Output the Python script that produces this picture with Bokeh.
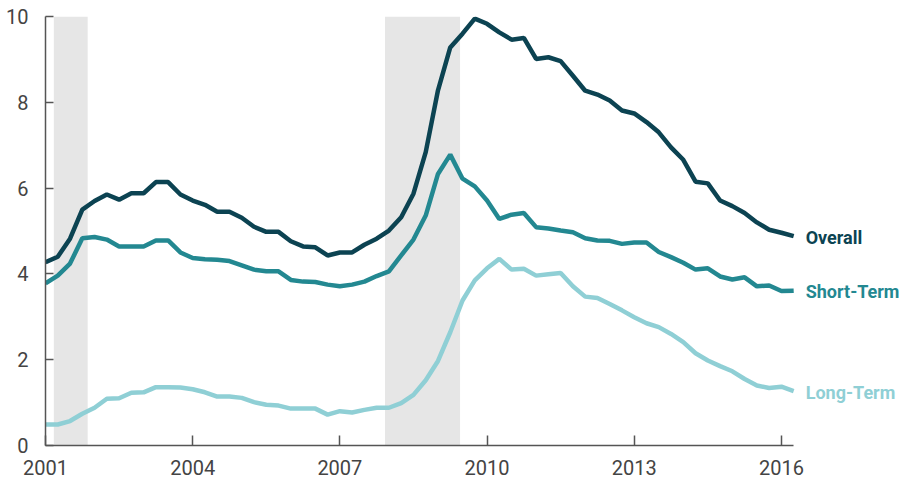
from bokeh.plotting import figure
from bokeh.models import FixedTicker, ColumnDataSource
from bokeh.core.properties import value
from bokeh.embed import file_html
from bokeh.resources import INLINE

# Quarterly data, 2001Q1 .. 2016Q2
start_year = 2001.0
quarters = [start_year + 0.25 * i for i in range(62)]

overall = [4.27, 4.40, 4.82, 5.50, 5.70, 5.85, 5.73, 5.88, 5.88, 6.14,
           6.14, 5.85, 5.71, 5.61, 5.45, 5.45, 5.31, 5.10, 4.98, 4.98,
           4.76, 4.64, 4.62, 4.43, 4.50, 4.50, 4.68, 4.82, 5.01, 5.32,
           5.87, 6.84, 8.28, 9.28, 9.60, 9.95, 9.83, 9.63, 9.46, 9.50,
           9.01, 9.05, 8.96, 8.62, 8.27, 8.18, 8.04, 7.81, 7.74, 7.54,
           7.30, 6.95, 6.66, 6.15, 6.11, 5.71, 5.58, 5.42, 5.20, 5.03,
           4.96, 4.88]
short_term = [3.78, 3.96, 4.24, 4.83, 4.86, 4.80, 4.64, 4.64, 4.64, 4.78,
              4.78, 4.50, 4.37, 4.34, 4.33, 4.30, 4.20, 4.10, 4.06, 4.06,
              3.86, 3.82, 3.81, 3.75, 3.71, 3.75, 3.82, 3.95, 4.06, 4.43,
              4.80, 5.36, 6.33, 6.78, 6.22, 6.04, 5.71, 5.28, 5.38, 5.42,
              5.09, 5.06, 5.01, 4.97, 4.83, 4.78, 4.77, 4.70, 4.73, 4.73,
              4.51, 4.39, 4.26, 4.10, 4.13, 3.94, 3.87, 3.92, 3.71, 3.73,
              3.60, 3.61]
long_term = [0.49, 0.49, 0.57, 0.74, 0.88, 1.09, 1.10, 1.23, 1.24, 1.36,
             1.36, 1.35, 1.31, 1.24, 1.14, 1.14, 1.11, 1.01, 0.95, 0.93,
             0.86, 0.86, 0.86, 0.72, 0.80, 0.77, 0.83, 0.88, 0.88, 0.99,
             1.18, 1.52, 1.97, 2.64, 3.38, 3.85, 4.13, 4.35, 4.10, 4.12,
             3.96, 3.99, 4.02, 3.71, 3.47, 3.44, 3.30, 3.15, 2.99, 2.85,
             2.76, 2.60, 2.41, 2.15, 1.98, 1.85, 1.73, 1.55, 1.40, 1.34,
             1.37, 1.27]

series_names = ["Overall", "Short-Term", "Long-Term"]
series_colors = ["#0c4352", "#238891", "#8fcfd5"]

recession_start = [2001.17, 2007.92]
recession_end = [2001.86, 2009.45]

x_ticks = [2001, 2004, 2007, 2010, 2013, 2016]
y_ticks = [0, 2, 4, 6, 8, 10]

FONT = "Roboto"

p = figure(width=907, height=478, output_backend="svg", toolbar_location=None,
           x_range=(2001.0, 2018.57), y_range=(0, 10),
           min_border_left=45, min_border_right=0, min_border_top=16,
           min_border_bottom=33)
p.outline_line_color = None
p.xgrid.visible = False
p.ygrid.visible = False

p.quad(left=recession_start, right=recession_end, bottom=0, top=10,
       fill_color="#e6e6e6", line_color=None)

for vals, name, col in zip([overall, short_term, long_term], series_names, series_colors):
    p.line(quarters, vals, line_color=col, line_width=4.5)

lab_src = ColumnDataSource(dict(
    x=[quarters[-1]] * 3,
    y=[overall[-1], short_term[-1], long_term[-1]],
    text=series_names,
    color=series_colors,
))
p.text(x="x", y="y", text="text", text_color="color", source=lab_src,
       x_offset=12, y_offset=1, text_baseline="middle", text_align="left",
       text_font=value(FONT), text_font_style="bold", text_font_size="18px")

for ax in (p.xaxis[0], p.yaxis[0]):
    ax.axis_line_color = "#555555"
    ax.axis_line_width = 1.5
    ax.major_tick_line_color = "#555555"
    ax.major_tick_line_width = 1.5
    ax.minor_tick_line_color = None
    ax.major_tick_out = 0
    ax.major_label_text_font = FONT
    ax.major_label_text_font_size = "20px"
    ax.major_label_text_color = "#444444"

p.xaxis.ticker = FixedTicker(ticks=x_ticks)
p.xaxis.bounds = (2001.0, 2016.25)
p.xaxis.major_tick_in = 10
p.xaxis.major_label_standoff = 14
p.yaxis.ticker = FixedTicker(ticks=y_ticks)
p.yaxis.major_tick_in = 8
p.yaxis.major_label_standoff = 17

open("out.html", "w").write(file_html(p, INLINE))
